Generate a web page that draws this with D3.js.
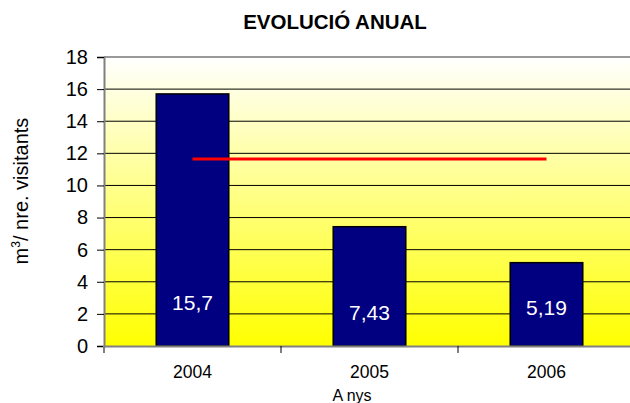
<!DOCTYPE html>
<html>
<head>
<meta charset="utf-8">
<script src="https://cdn.jsdelivr.net/npm/d3@7"></script>
<style>
body { margin: 0; background: #fff; }
text { font-family: "Liberation Sans", Arial, sans-serif; }
</style>
</head>
<body>
<div id="chart"></div>
<script>
// Chart data
const years = ["2004", "2005", "2006"];
const values = [15.7, 7.43, 5.19];
const valueLabels = ["15,7", "7,43", "5,19"];
const labelLevels = [2.24, 1.62, 1.93];   // label baselines inside the bars (axis units)
const targetValue = 11.65;
const yTicks = [0, 2, 4, 6, 8, 10, 12, 14, 16, 18];

const width = 630, height = 403;
const margin = { top: 57, right: -5, bottom: 57, left: 104 };

const svg = d3.select("#chart").append("svg")
	.attr("width", width)
	.attr("height", height);

// Background gradient of the plot area
const defs = svg.append("defs");
const grad = defs.append("linearGradient")
	.attr("id", "bg")
	.attr("x1", 0).attr("y1", 0).attr("x2", 0).attr("y2", 1);
grad.append("stop").attr("offset", "0%").attr("stop-color", "#ffffff");
grad.append("stop").attr("offset", "100%").attr("stop-color", "#ffff00");

const x = d3.scaleBand()
	.domain(years)
	.range([margin.left, width - margin.right])
	.paddingInner(0.59)
	.paddingOuter(0.295);

const xGroup = d3.scaleBand()
	.domain(years)
	.range([margin.left, width - margin.right]);

const y = d3.scaleLinear()
	.domain([0, 18])
	.range([height - margin.bottom, margin.top]);

// Plot area
svg.append("rect")
	.attr("x", margin.left)
	.attr("y", margin.top)
	.attr("width", width - margin.right - margin.left)
	.attr("height", y(0) - y(18))
	.attr("fill", "url(#bg)");

// Gridlines
svg.append("g")
	.selectAll("line")
	.data(yTicks.filter(d => d > 0 && d < 18))
	.enter()
	.append("line")
	.attr("x1", margin.left)
	.attr("x2", width)
	.attr("y1", d => y(d))
	.attr("y2", d => y(d))
	.attr("stroke", "#000")
	.attr("stroke-width", 1);

// Top border of the plot area
svg.append("line")
	.attr("x1", margin.left).attr("x2", width)
	.attr("y1", y(18)).attr("y2", y(18))
	.attr("stroke", "#999").attr("stroke-width", 2);

// Bars
svg.append("g")
	.selectAll("rect")
	.data(values)
	.enter()
	.append("rect")
	.attr("x", (d, i) => x(years[i]))
	.attr("y", d => y(d))
	.attr("width", x.bandwidth())
	.attr("height", d => y(0) - y(d))
	.attr("fill", "#000080")
	.attr("stroke", "#000")
	.attr("stroke-width", 1.5);

// Value labels inside the bars
svg.append("g")
	.selectAll("text")
	.data(valueLabels)
	.enter()
	.append("text")
	.attr("x", (d, i) => x(years[i]) + x.bandwidth() / 2)
	.attr("y", (d, i) => y(labelLevels[i]))
	.attr("text-anchor", "middle")
	.attr("fill", "#fff")
	.style("font-size", "21px")
	.text(d => d);

// Target line between first and last category centres
const lineGen = d3.line()
	.x(d => x(d) + x.bandwidth() / 2)
	.y(() => y(targetValue));
svg.append("path")
	.datum(years)
	.attr("d", lineGen)
	.attr("fill", "none")
	.attr("stroke", "#ff0000")
	.attr("stroke-width", 3);

// Y axis
const yAxis = svg.append("g")
	.attr("transform", `translate(${margin.left},0)`)
	.call(d3.axisLeft(y).tickValues(yTicks).tickSize(7).tickPadding(9));
yAxis.select(".domain").attr("stroke", "#808080").attr("stroke-width", 2);
yAxis.selectAll(".tick line").attr("stroke", "#000");
yAxis.selectAll(".tick text")
	.style("font-size", "20px")
	.style("font-family", "'Liberation Sans', Arial, sans-serif")
	.attr("fill", "#000");

// X axis
const xAxis = svg.append("g")
	.attr("transform", `translate(0,${y(0)})`)
	.call(d3.axisBottom(xGroup).tickSize(0));
xAxis.select(".domain").attr("stroke", "#808080").attr("stroke-width", 2);
xAxis.selectAll(".tick text")
	.attr("y", 32)
	.attr("dy", 0)
	.style("font-size", "17.5px")
	.style("font-family", "'Liberation Sans', Arial, sans-serif")
	.attr("fill", "#000");

// Category separators on the x axis
svg.append("g")
	.selectAll("line")
	.data(years.slice(1))
	.enter()
	.append("line")
	.attr("x1", d => xGroup(d))
	.attr("x2", d => xGroup(d))
	.attr("y1", y(0))
	.attr("y2", y(0) + 7)
	.attr("stroke", "#000");
svg.append("line")
	.attr("x1", margin.left).attr("x2", margin.left)
	.attr("y1", y(0)).attr("y2", y(0) + 7)
	.attr("stroke", "#808080").attr("stroke-width", 2);

// Title
svg.append("text")
	.attr("x", 335)
	.attr("y", 29)
	.attr("text-anchor", "middle")
	.style("font-size", "20.5px")
	.style("font-weight", "bold")
	.text("EVOLUCIÓ ANUAL");

// Axis titles
svg.append("text")
	.attr("x", 352)
	.attr("y", 401)
	.attr("text-anchor", "middle")
	.style("font-size", "16px")
	.text("A nys");

svg.append("text")
	.attr("transform", `translate(28,191) rotate(-90)`)
	.attr("text-anchor", "middle")
	.style("font-size", "20px")
	.html("m<tspan dy='-8' font-size='12px'>3</tspan><tspan dy='8'>/ nre. visitants</tspan>");
</script>
</body>
</html>
